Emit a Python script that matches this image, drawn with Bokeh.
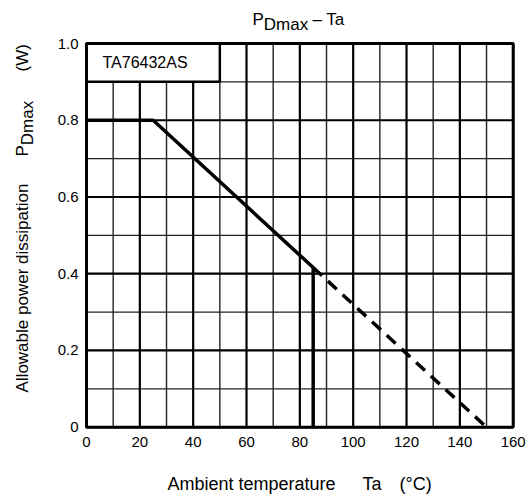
import math
from bokeh.plotting import figure
from bokeh.models import Range1d
from bokeh.core.properties import value
from bokeh.embed import file_html
from bokeh.resources import INLINE

# ---- data ----
x_ticks = [0, 20, 40, 60, 80, 100, 120, 140, 160]
x_tick_labels = ["0", "20", "40", "60", "80", "100", "120", "140", "160"]
x_minor = [10, 30, 50, 70, 90, 110, 130, 150]
y_ticks = [0, 0.2, 0.4, 0.6, 0.8, 1.0]
y_tick_labels = ["0", "0.2", "0.4", "0.6", "0.8", "1.0"]
y_minor = [0.1, 0.3, 0.5, 0.7, 0.9]

ta_solid = [0, 25, 85]
pd_solid = [0.8, 0.8, 0.416]
ta_dash = [85, 150]
pd_dash = [0.416, 0.0]
ta_drop = [85, 85]
pd_drop = [0.0, 0.416]

part_name = "TA76432AS"
part_box = dict(left=0, right=50, bottom=0.9, top=1.0)

FONT = value("Liberation Sans")

# ---- layout geometry (page pixels) ----
W, H = 526, 496
OX, OY = 1, 1                      # page offset of the canvas
FL, FR, FT, FB = 87, 513.7, 44, 427.7  # plot-area edges on the page

sxp = (FR - FL) / (x_ticks[-1] - x_ticks[0])
x_start = x_ticks[0] - (FL - OX) / sxp
x_end = x_start + W / sxp
syp = (FB - FT) / (y_ticks[-1] - y_ticks[0])
y_end = y_ticks[-1] + (FT - OY) / syp
y_start = y_end - H / syp


def dx(px):
    return x_start + (px - OX) / sxp


def dy(py):
    return y_end - (py - OY) / syp


p = figure(width=W, height=H, x_range=Range1d(x_start, x_end),
           y_range=Range1d(y_start, y_end),
           x_axis_location=None, y_axis_location=None,
           output_backend="svg", toolbar_location=None, min_border=0)
p.outline_line_color = None
p.xgrid.visible = False
p.ygrid.visible = False
p.background_fill_color = "white"
p.border_fill_color = "white"

x0, x1 = x_ticks[0], x_ticks[-1]
y0, y1 = y_ticks[0], y_ticks[-1]

# grid
p.segment(x0=x_minor, y0=[y0] * len(x_minor), x1=x_minor, y1=[y1] * len(x_minor),
          line_color="#222222", line_width=1.4)
p.segment(x0=[x0] * len(y_minor), y0=y_minor, x1=[x1] * len(y_minor), y1=y_minor,
          line_color="#222222", line_width=1.4)
p.segment(x0=x_ticks, y0=[y0] * len(x_ticks), x1=x_ticks, y1=[y1] * len(x_ticks),
          line_color="black", line_width=2.2)
p.segment(x0=[x0] * len(y_ticks), y0=y_ticks, x1=[x1] * len(y_ticks), y1=y_ticks,
          line_color="black", line_width=2.2)

# part-name box
p.quad(fill_color="white", line_color="black", line_width=2.5, **{k: [v] for k, v in part_box.items()})
p.text(x=[part_box["left"]], y=[(part_box["bottom"] + part_box["top"]) / 2], text=[part_name],
       x_offset=16, text_baseline="middle", text_align="left",
       text_font=FONT, text_font_size="16px", text_color="black")

# plot frame
p.quad(left=[x0], right=[x1], bottom=[y0], top=[y1], fill_color=None,
       line_color="black", line_width=3)

# curves
p.line(ta_solid, pd_solid, line_color="black", line_width=3.5)
p.line(ta_dash, pd_dash, line_color="black", line_width=3.5, line_dash="12 8")
p.line(ta_drop, pd_drop, line_color="black", line_width=3.5)

# tick labels
p.text(x=x_ticks, y=[dy(442)] * len(x_ticks), text=x_tick_labels,
       text_align="center", text_baseline="middle",
       text_font=FONT, text_font_size="15px", text_color="black")
p.text(x=[dx(79)] * len(y_ticks), y=y_ticks, text=y_tick_labels,
       text_align="right", text_baseline="middle",
       text_font=FONT, text_font_size="15px", text_color="black")

fs = "17px"
# title: P_Dmax – Ta
p.text(x=[dx(253)], y=[dy(20)], text=["P"], text_font=FONT, text_font_size=fs,
       text_baseline="alphabetic", text_color="black")
p.text(x=[dx(264.3)], y=[dy(25)], text=["Dmax"], text_font=FONT, text_font_size=fs,
       text_baseline="alphabetic", text_color="black")
p.text(x=[dx(313)], y=[dy(20)], text=["– Ta"], text_font=FONT, text_font_size=fs,
       text_baseline="alphabetic", text_color="black")

# y label (rotated)
ang = math.pi / 2
p.text(x=[dx(23)], y=[dy(393)], text=["Allowable power dissipation"], angle=ang,
       text_font=FONT, text_font_size=fs, text_baseline="alphabetic", text_color="black")
p.text(x=[dx(23)], y=[dy(157)], text=["P"], angle=ang,
       text_font=FONT, text_font_size=fs, text_baseline="alphabetic", text_color="black")
p.text(x=[dx(28)], y=[dy(145.7)], text=["Dmax"], angle=ang,
       text_font=FONT, text_font_size=fs, text_baseline="alphabetic", text_color="black")
p.text(x=[dx(23)], y=[dy(72)], text=["(W)"], angle=ang,
       text_font=FONT, text_font_size=fs, text_baseline="alphabetic", text_color="black")

# x label
xfs = "18px"
p.text(x=[dx(168)], y=[dy(484)], text=["Ambient temperature"], text_font=FONT,
       text_font_size=xfs, text_baseline="alphabetic", text_color="black")
p.text(x=[dx(363)], y=[dy(484)], text=["Ta"], text_font=FONT,
       text_font_size=xfs, text_baseline="alphabetic", text_color="black")
p.text(x=[dx(400)], y=[dy(484)], text=["(°C)"], text_font=FONT,
       text_font_size=xfs, text_baseline="alphabetic", text_color="black")

open("out.html", "w").write(file_html(p, INLINE))
